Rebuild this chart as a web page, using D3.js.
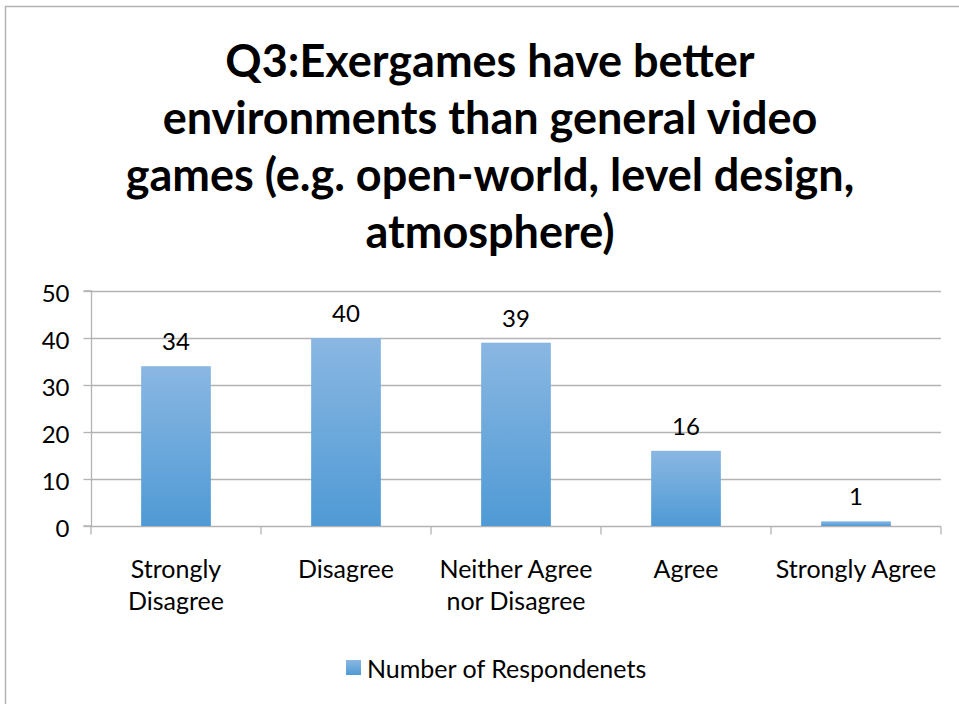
<!DOCTYPE html>
<html>
<head>
<meta charset="utf-8">
<script src="https://cdn.jsdelivr.net/npm/d3@7"></script>
<style>
  html, body { margin: 0; padding: 0; background: #fff; }
  svg { display: block; }
</style>
</head>
<body>
<svg id="chart" width="959" height="704"></svg>
<script>
const titleLines = [
  "Q3:Exergames have better",
  "environments than general video",
  "games (e.g. open-world, level design,",
  "atmosphere)"
];
const categories = [
  ["Strongly", "Disagree"],
  ["Disagree"],
  ["Neither Agree", "nor Disagree"],
  ["Agree"],
  ["Strongly Agree"]
];
const categoryKeys = ["Strongly Disagree", "Disagree", "Neither Agree nor Disagree", "Agree", "Strongly Agree"];
const values = [34, 40, 39, 16, 1];
const yTicks = [0, 10, 20, 30, 40, 50];
const seriesName = "Number of Respondenets";

const svg = d3.select("#chart");
const font = "Lato, 'Open Sans', sans-serif";
const grid = "#b3b3b3";

// gradient
const defs = svg.append("defs");
const grad = defs.append("linearGradient").attr("id", "barGrad")
  .attr("x1", 0).attr("y1", 0).attr("x2", 0).attr("y2", 1);
grad.append("stop").attr("offset", "0%").attr("stop-color", "#8ab7e2");
grad.append("stop").attr("offset", "100%").attr("stop-color", "#4f9ad5");

// chart border
svg.append("rect").attr("x", 5.5).attr("y", 6.5).attr("width", 1000).attr("height", 1000)
  .attr("fill", "none").attr("stroke", grid).attr("stroke-width", 1.5);

const m = { left: 91, right: 941, top: 291, bottom: 526 };

const x = d3.scaleBand().domain(categoryKeys).range([m.left, m.right])
  .paddingInner(0.59).paddingOuter(0.295);
const xb = d3.scaleBand().domain(categoryKeys).range([m.left, m.right]).padding(0);
const y = d3.scaleLinear().domain([0, 50]).range([m.bottom, m.top]);

// title
const title = svg.append("text").attr("text-anchor", "middle")
  .attr("font-family", font).attr("font-weight", "bold").attr("font-size", 45)
  .attr("fill", "#000");
titleLines.forEach((t, i) => {
  title.append("tspan").attr("x", 490).attr("y", 77 + i * 57).text(t);
});

// gridlines
svg.append("g").selectAll("line").data(yTicks.filter(d => d > 0)).join("line")
  .attr("x1", m.left).attr("x2", m.right)
  .attr("y1", d => Math.round(y(d)) + 0.5).attr("y2", d => Math.round(y(d)) + 0.5)
  .attr("stroke", grid).attr("stroke-width", 1.3);

// y axis
const yAxis = svg.append("g").attr("transform", `translate(${m.left + 0.5},0)`)
  .call(d3.axisLeft(y).tickValues(yTicks).tickSize(8).tickPadding(14));
yAxis.select(".domain").attr("stroke", grid).attr("stroke-width", 1.3).attr("d", `M-8,${y(0)}H0V${y(50)}H-8`);
yAxis.selectAll(".tick line").attr("stroke", grid).attr("stroke-width", 1.3);
yAxis.selectAll(".tick text").attr("font-family", font).attr("font-size", 24).attr("fill", "#000")
  .attr("dy", "0.42em");

// x axis
const xAxis = svg.append("g").attr("transform", `translate(0,${Math.round(y(0)) + 0.5})`);
xAxis.append("line").attr("x1", m.left).attr("x2", m.right).attr("stroke", grid).attr("stroke-width", 1.3);
const bounds = categoryKeys.map(k => xb(k)).concat([m.right]);
xAxis.selectAll("line.tk").data(bounds).join("line").attr("class", "tk")
  .attr("x1", d => d).attr("x2", d => d).attr("y1", 0).attr("y2", 8)
  .attr("stroke", grid).attr("stroke-width", 1.3);

// category labels
categoryKeys.forEach((k, i) => {
  const t = svg.append("text").attr("text-anchor", "middle")
    .attr("font-family", font).attr("font-size", 25).attr("fill", "#000");
  categories[i].forEach((line, j) => {
    t.append("tspan").attr("x", xb(k) + xb.bandwidth() / 2).attr("y", 578 + j * 32).text(line);
  });
});

// bars
svg.append("g").selectAll("rect").data(values).join("rect")
  .attr("x", (d, i) => x(categoryKeys[i]))
  .attr("width", x.bandwidth())
  .attr("y", d => y(d))
  .attr("height", d => y(0) - y(d))
  .attr("fill", "url(#barGrad)");

// data labels
svg.append("g").selectAll("text").data(values).join("text")
  .attr("x", (d, i) => x(categoryKeys[i]) + x.bandwidth() / 2)
  .attr("y", d => y(d) - 16)
  .attr("text-anchor", "middle")
  .attr("font-family", font).attr("font-size", 24).attr("fill", "#000")
  .text(d => d);

// legend
const lg = svg.append("g");
lg.append("rect").attr("x", 346).attr("y", 660).attr("width", 15).attr("height", 15).attr("fill", "url(#barGrad)");
lg.append("text").attr("x", 367).attr("y", 678).attr("font-family", font).attr("font-size", 25)
  .attr("fill", "#000").text(seriesName);
</script>
</body>
</html>
